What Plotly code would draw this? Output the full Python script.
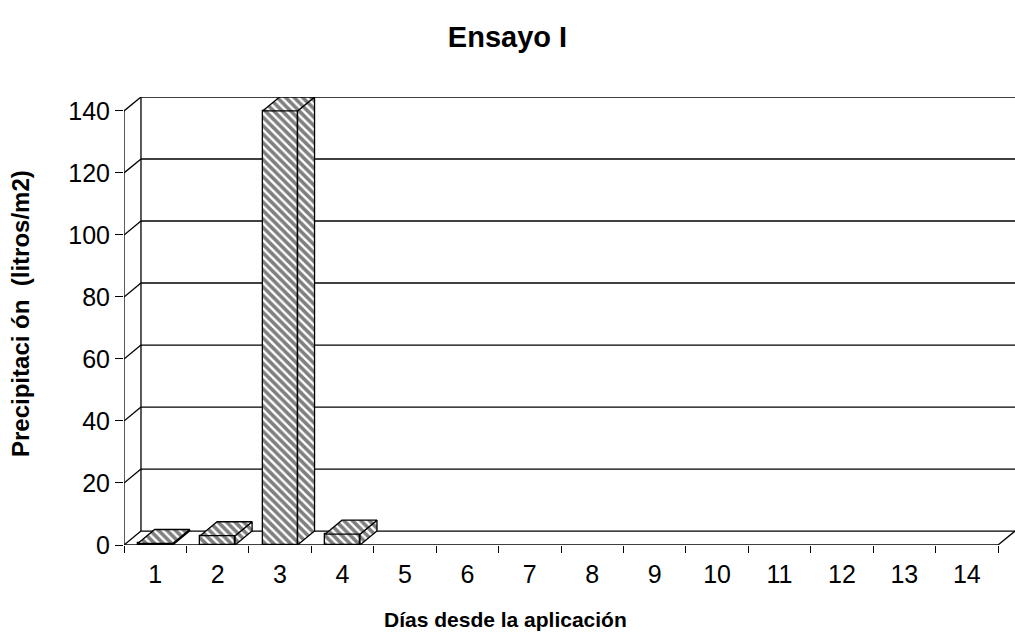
import plotly.graph_objects as go

# Daily rainfall after application (litros/m2)
dias = ["1", "2", "3", "4", "5", "6", "7", "8", "9", "10", "11", "12", "13", "14"]
precipitacion = [0.5, 3.0, 140.0, 3.5, 0, 0, 0, 0, 0, 0, 0, 0, 0, 0]
y_ticks = [0, 20, 40, 60, 80, 100, 120, 140]

# Pseudo-3D depth offset, expressed in axis units
DX = 0.272   # category units
DY = 4.5     # value units
BAR_W = 0.56
Y_MAX = 140
N = len(dias)
X_MAX = N + DX

W, H = 1015, 635
ML, MR, MT, MB = 124, 0, 97, 90
PLOT_W = W - ML - MR
PLOT_H = H - MT - MB

def px_to_paper_x(px):
    return (px - ML) / PLOT_W

def px_to_paper_y(py):
    return (H - MB - py) / PLOT_H

FONT = "Liberation Sans, Arial, sans-serif"
LINE = dict(color="black", width=1.3)
HATCH = dict(shape="\\", fgcolor="black", bgcolor="white", size=6, solidity=0.6)

centers = [i + 0.5 for i in range(N)]

fig = go.Figure()

# Front faces of the bars
fig.add_trace(go.Bar(
    x=centers,
    y=[v if v > 0 else None for v in precipitacion],
    width=BAR_W,
    marker=dict(color="white", line=LINE, pattern=HATCH),
    showlegend=False,
    hoverinfo="skip",
))

# Side and top faces of the bars
for c, v in zip(centers, precipitacion):
    if v <= 0:
        continue
    x0, x1 = c - BAR_W / 2, c + BAR_W / 2
    side_x = [x1, x1 + DX, x1 + DX, x1, x1]
    side_y = [0, DY, v + DY, v, 0]
    top_x = [x0, x1, x1 + DX, x0 + DX, x0]
    top_y = [v, v, v + DY, v + DY, v]
    for px, py in ((side_x, side_y), (top_x, top_y)):
        fig.add_trace(go.Scatter(
            x=px, y=py, mode="lines", fill="toself",
            fillcolor="white", fillpattern=HATCH,
            line=LINE, showlegend=False, hoverinfo="skip",
            cliponaxis=False,
        ))

# Chart frame: side wall, back wall gridlines and floor
shapes = []
def seg(xa, ya, xb, yb):
    shapes.append(dict(type="line", xref="x", yref="y", x0=xa, y0=ya, x1=xb, y1=yb,
                       line=LINE, layer="below"))

seg(0, 0, 0, Y_MAX)                      # front value axis
seg(DX, DY, DX, Y_MAX + DY)              # back-left wall edge
for t in y_ticks:
    seg(0, t, DX, t + DY)                # side wall diagonals
    seg(DX, t + DY, X_MAX, t + DY)       # back wall gridlines
seg(0, 0, N, 0)                          # front floor edge
seg(N, 0, X_MAX, DY)                     # right floor diagonal

fig.update_layout(
    width=W, height=H,
    margin=dict(l=ML, r=MR, t=MT, b=MB),
    paper_bgcolor="white", plot_bgcolor="white",
    shapes=shapes,
    bargap=0,
    title=dict(text="<b>Ensayo I</b>", x=0.5, xref="container", xanchor="center",
               y=1 - 37 / H, yref="container", yanchor="middle",
               font=dict(family=FONT, size=29, color="black")),
    font=dict(family=FONT, color="black"),
    xaxis=dict(
        range=[0, X_MAX], tickmode="array", tickvals=centers, ticktext=dias,
        ticks="", showgrid=False, zeroline=False, showline=False,
        tickfont=dict(size=25, color="black"), ticklabelstandoff=12,
        minor=dict(tickmode="array", tickvals=list(range(N + 1)), ticks="outside",
                   ticklen=7, tickwidth=1.3, tickcolor="black", showgrid=False),
    ),
    yaxis=dict(
        range=[0, Y_MAX + DY], tickmode="array", tickvals=y_ticks,
        ticks="outside", ticklen=8, tickwidth=1.3, tickcolor="black",
        showgrid=False, zeroline=False, showline=False,
        tickfont=dict(size=25, color="black"),
    ),
    annotations=[
        dict(text="<b>Días desde la aplicación</b>", xref="paper", yref="paper",
             x=px_to_paper_x(505), y=px_to_paper_y(619),
             xanchor="center", yanchor="middle",
             showarrow=False, font=dict(family=FONT, size=21, color="black")),
        dict(text="<b>Precipitaci ón\u00a0 (litros/m2)</b>", xref="paper", yref="paper",
             x=px_to_paper_x(20), y=px_to_paper_y(314),
             xanchor="center", yanchor="middle",
             textangle=-90, showarrow=False,
             font=dict(family=FONT, size=24, color="black")),
    ],
)

fig.write_html("out.html")
